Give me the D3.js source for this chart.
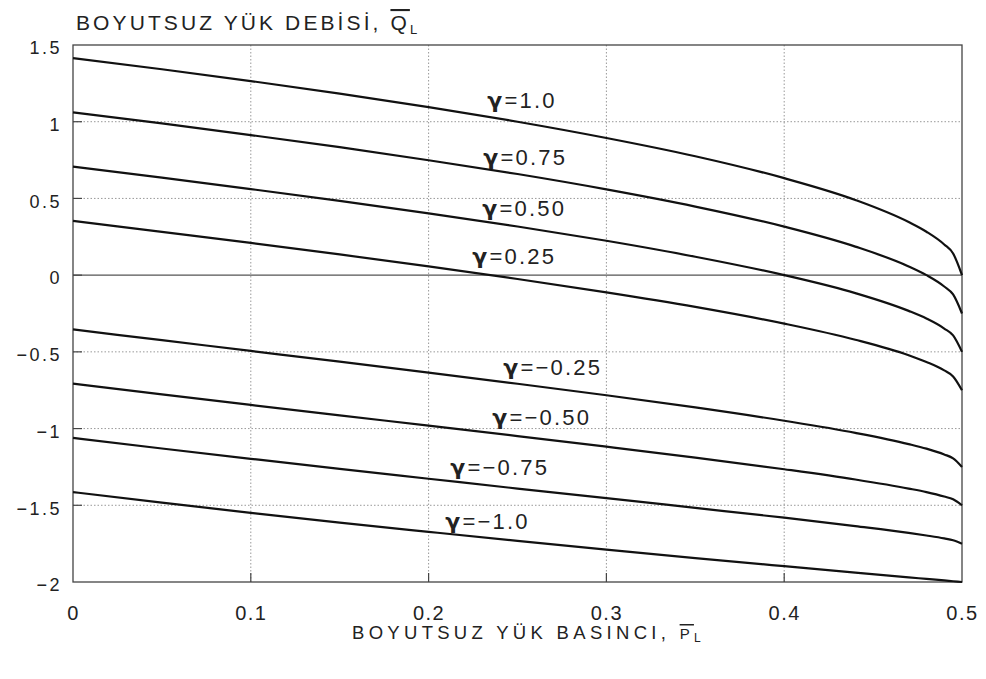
<!DOCTYPE html>
<html><head><meta charset="utf-8">
<script src="https://cdn.jsdelivr.net/npm/d3@7"></script>
<style>
body{margin:0;background:#fff}
text{font-family:"Liberation Sans",Arial,sans-serif;fill:#222}
</style>
</head><body>
<svg id="chart" width="986" height="679"></svg>
<script>
// Dimensionless load pressure P_L (x) sample positions
const pValues = [0, 0.05, 0.1, 0.15, 0.2, 0.25, 0.3, 0.35, 0.4, 0.44, 0.47, 0.48, 0.49, 0.495, 0.5];

// Dimensionless load flow Q_L (y) for each gamma
const qGammaP100 = [1.414, 1.342, 1.265, 1.183, 1.095, 1.000, 0.894, 0.775, 0.632, 0.490, 0.346, 0.283, 0.200, 0.141, 0.000];
const qGammaP075 = [1.061, 0.989, 0.913, 0.834, 0.749, 0.659, 0.559, 0.447, 0.316, 0.186, 0.057, 0.000, -0.074, -0.126, -0.250];
const qGammaP050 = [0.707, 0.635, 0.561, 0.484, 0.403, 0.317, 0.224, 0.120, 0.000, -0.117, -0.233, -0.283, -0.348, -0.393, -0.500];
const qGammaP025 = [0.354, 0.282, 0.210, 0.135, 0.057, -0.025, -0.112, -0.207, -0.316, -0.421, -0.522, -0.566, -0.621, -0.660, -0.750];
const qGammaM025 = [-0.354, -0.424, -0.494, -0.564, -0.635, -0.708, -0.783, -0.862, -0.949, -1.028, -1.101, -1.131, -1.169, -1.194, -1.250];
const qGammaM050 = [-0.707, -0.777, -0.846, -0.914, -0.981, -1.049, -1.118, -1.189, -1.265, -1.332, -1.391, -1.414, -1.443, -1.461, -1.500];
const qGammaM075 = [-1.061, -1.130, -1.197, -1.263, -1.327, -1.391, -1.453, -1.517, -1.581, -1.636, -1.680, -1.697, -1.716, -1.728, -1.750];
const qGammaM100 = [-1.414, -1.483, -1.549, -1.613, -1.673, -1.732, -1.789, -1.844, -1.897, -1.939, -1.970, -1.980, -1.990, -1.995, -2.000];

const gammaNames = ["1.0", "0.75", "0.50", "0.25", "−0.25", "−0.50", "−0.75", "−1.0"];
const seriesValues = [qGammaP100, qGammaP075, qGammaP050, qGammaP025, qGammaM025, qGammaM050, qGammaM075, qGammaM100];

// label anchor (left edge, vertical centre) in data units
const labelAtP = [0.233, 0.2308, 0.2302, 0.2246, 0.2420, 0.2358, 0.2122, 0.2094];
const labelAtQ = [1.142, 0.770, 0.438, 0.125, -0.599, -0.925, -1.250, -1.602];

const xTicks = [0, 0.1, 0.2, 0.3, 0.4, 0.5];
const xTickLabels = ["0", "0.1", "0.2", "0.3", "0.4", "0.5"];
const yTicks = [-2, -1.5, -1, -0.5, 0, 0.5, 1, 1.5];
const yTickLabels = ["−2", "−1.5", "−1", "−0.5", "0", "0.5", "1", "1.5"];

const svg = d3.select("#chart");
const L = 73, R = 962, T = 45, B = 582;
const x = d3.scaleLinear().domain([0, 0.5]).range([L, R]);
const y = d3.scaleLinear().domain([-2, 1.5]).range([B, T]);

// grid
const grid = svg.append("g");
grid.selectAll("line.gx").data(xTicks.slice(1, -1)).join("line")
  .attr("x1", d => x(d)).attr("x2", d => x(d)).attr("y1", T).attr("y2", B)
  .attr("stroke", "#999").attr("stroke-width", 1).attr("stroke-dasharray", "1.5,2");
grid.selectAll("line.gy").data(yTicks.filter(d => d !== 0 && d > -2 && d < 1.5)).join("line")
  .attr("x1", L).attr("x2", R).attr("y1", d => y(d)).attr("y2", d => y(d))
  .attr("stroke", "#999").attr("stroke-width", 1).attr("stroke-dasharray", "1.5,2");
// zero line
svg.append("line").attr("x1", L).attr("x2", R).attr("y1", y(0)).attr("y2", y(0))
  .attr("stroke", "#555").attr("stroke-width", 1.1);

// inner ticks
svg.selectAll("line.tx").data(xTicks.slice(1, -1)).join("line")
  .attr("x1", d => x(d)).attr("x2", d => x(d)).attr("y1", B).attr("y2", B - 9)
  .attr("stroke", "#444").attr("stroke-width", 1.2);
svg.selectAll("line.ty").data(yTicks.slice(1, -1)).join("line")
  .attr("x1", L).attr("x2", L + 9).attr("y1", d => y(d)).attr("y2", d => y(d))
  .attr("stroke", "#444").attr("stroke-width", 1.2);

// axes (labels)
const xAxis = d3.axisBottom(x).tickValues(xTicks).tickSize(0).tickPadding(0)
  .tickFormat((d, i) => xTickLabels[i]);
const gx = svg.append("g").attr("transform", `translate(0,${B})`).call(xAxis);
gx.select(".domain").remove();
gx.selectAll("text").attr("dy", null).attr("y", 38)
  .style("font-size", "20px").style("letter-spacing", "1.5px")
  .style("font-family", '"Liberation Sans",Arial,sans-serif').attr("fill", "#222");

const yAxis = d3.axisLeft(y).tickValues(yTicks).tickSize(0).tickPadding(0)
  .tickFormat((d, i) => yTickLabels[i]);
const gy = svg.append("g").attr("transform", `translate(${L - 11},0)`).call(yAxis);
gy.select(".domain").remove();
gy.selectAll("text").attr("dy", "0.38em").attr("y", 2)
  .style("font-size", "18px").style("letter-spacing", "2.5px")
  .style("font-family", '"Liberation Sans",Arial,sans-serif').attr("fill", "#222");

// frame
svg.append("rect").attr("x", L).attr("y", T).attr("width", R - L).attr("height", B - T)
  .attr("fill", "none").attr("stroke", "#444").attr("stroke-width", 1.3);

// curves
const line = d3.line().x((d, i) => x(pValues[i])).y(d => y(d)).curve(d3.curveMonotoneX);
svg.append("g").selectAll("path").data(seriesValues).join("path")
  .attr("d", d => line(d)).attr("fill", "none").attr("stroke", "#111")
  .attr("stroke-width", 2.2).attr("stroke-linejoin", "round");

// gamma labels
const lab = svg.append("g").selectAll("text").data(gammaNames).join("text")
  .attr("x", (d, i) => x(labelAtP[i])).attr("y", (d, i) => y(labelAtQ[i]))
  .attr("dy", "0.36em").style("font-size", "22px").style("letter-spacing", "2.2px");
lab.append("tspan").text("γ").style("font-weight", "bold")
  .style("font-family", '"DejaVu Sans",sans-serif');
lab.append("tspan").text(d => "=" + d);

// titles
const t1 = svg.append("text").attr("x", 76).attr("y", 30)
  .style("font-size", "21px").style("letter-spacing", "3.1px");
t1.append("tspan").text("BOYUTSUZ YÜK DEBİSİ, ");
t1.append("tspan").text("Q").style("text-decoration", "overline");
t1.append("tspan").text("L").attr("dy", 4).style("font-size", "13px");

const t2 = svg.append("text").attr("x", 352).attr("y", 639)
  .style("font-size", "18.5px").style("letter-spacing", "4.3px");
t2.append("tspan").text("BOYUTSUZ YÜK BASINCI, ");
t2.append("tspan").text("P").style("text-decoration", "overline").style("font-size", "15px");
t2.append("tspan").text("L").attr("dy", 3).style("font-size", "12px");
</script>
</body></html>
